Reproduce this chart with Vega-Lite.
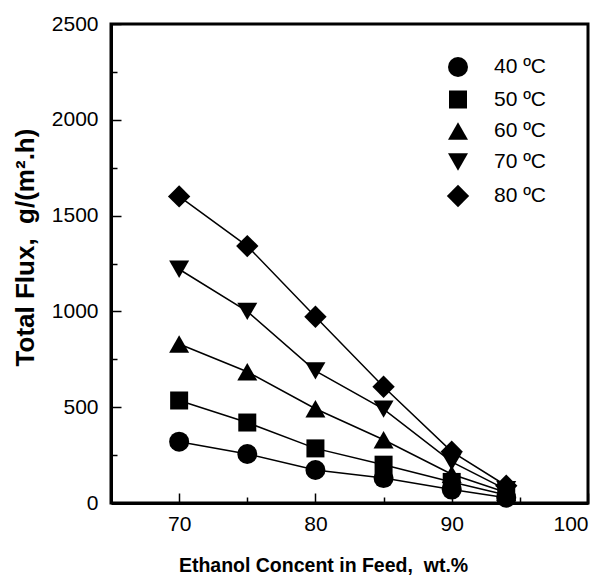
{
  "$schema": "https://vega.github.io/schema/vega-lite/v6.json",
  "width": 477,
  "height": 479,
  "autosize": {"type": "none"},
  "padding": {"left": 111, "top": 24, "right": 21, "bottom": 74},
  "background": "white",
  "config": {
    "view": {"stroke": "black", "strokeWidth": 3},
    "font": "Liberation Sans",
    "axis": {
      "domainColor": "black", "domainWidth": 3,
      "tickColor": "black", "tickWidth": 1.5,
      "labelFont": "Liberation Sans", "labelFontSize": 21, "labelColor": "black",
      "titleFont": "Liberation Sans", "titleFontWeight": "bold", "titleColor": "black",
      "grid": false
    }
  },
  "data": {
    "values": [
      {"x": 70, "y": 320, "T": "40 ºC"}, {"x": 75, "y": 256, "T": "40 ºC"}, {"x": 80, "y": 172, "T": "40 ºC"}, {"x": 85, "y": 130, "T": "40 ºC"}, {"x": 90, "y": 70, "T": "40 ºC"}, {"x": 94, "y": 28, "T": "40 ºC"},
      {"x": 70, "y": 535, "T": "50 ºC"}, {"x": 75, "y": 420, "T": "50 ºC"}, {"x": 80, "y": 285, "T": "50 ºC"}, {"x": 85, "y": 200, "T": "50 ºC"}, {"x": 90, "y": 110, "T": "50 ºC"}, {"x": 94, "y": 42, "T": "50 ºC"},
      {"x": 70, "y": 830, "T": "60 ºC"}, {"x": 75, "y": 685, "T": "60 ºC"}, {"x": 80, "y": 492, "T": "60 ºC"}, {"x": 85, "y": 330, "T": "60 ºC"}, {"x": 90, "y": 150, "T": "60 ºC"}, {"x": 94, "y": 55, "T": "60 ºC"},
      {"x": 70, "y": 1220, "T": "70 ºC"}, {"x": 75, "y": 1000, "T": "70 ºC"}, {"x": 80, "y": 690, "T": "70 ºC"}, {"x": 85, "y": 490, "T": "70 ºC"}, {"x": 90, "y": 215, "T": "70 ºC"}, {"x": 94, "y": 70, "T": "70 ºC"},
      {"x": 70, "y": 1600, "T": "80 ºC"}, {"x": 75, "y": 1341, "T": "80 ºC"}, {"x": 80, "y": 972, "T": "80 ºC"}, {"x": 85, "y": 607, "T": "80 ºC"}, {"x": 90, "y": 268, "T": "80 ºC"}, {"x": 94, "y": 90, "T": "80 ºC"}
    ]
  },
  "encoding": {
    "x": {
      "field": "x", "type": "quantitative",
      "scale": {"domain": [65, 100], "nice": false, "zero": false},
      "axis": {
        "values": [70, 75, 80, 85, 90, 95, 100],
        "labelExpr": "datum.value % 10 === 0 ? datum.label : ''",
        "tickSize": {"condition": {"test": "datum.value % 10 === 0", "value": -10}, "value": -6},
        "labelPadding": 20,
        "title": "Ethanol Concent in Feed,\u00a0\u00a0wt.%",
        "titleFontSize": 19.5,
        "titleBaseline": "alphabetic",
        "titleX": 212,
        "titleY": 68
      }
    },
    "y": {
      "field": "y", "type": "quantitative",
      "scale": {"domain": [0, 2500], "nice": false},
      "axis": {
        "values": [0, 250, 500, 750, 1000, 1250, 1500, 1750, 2000, 2250, 2500],
        "labelExpr": "datum.value % 500 === 0 ? datum.label : ''",
        "format": "d",
        "tickSize": {"condition": {"test": "datum.value % 500 === 0", "value": -10}, "value": -6},
        "labelPadding": 23,
        "title": "Total Flux,\u00a0\u00a0g/(m².h)",
        "titleFontSize": 26,
        "titleBaseline": "alphabetic",
        "titleX": -78,
        "titleY": 223
      }
    }
  },
  "layer": [
    {
      "mark": {"type": "line", "color": "black", "strokeWidth": 1.5},
      "encoding": {"detail": {"field": "T"}}
    },
    {
      "mark": {"type": "point", "filled": true, "color": "black", "opacity": 1},
      "encoding": {
        "shape": {
          "field": "T", "type": "nominal",
          "scale": {"domain": ["40 ºC", "50 ºC", "60 ºC", "70 ºC", "80 ºC"], "range": ["circle", "square", "triangle-up", "triangle-down", "diamond"]},
          "legend": {
            "title": null, "orient": "none", "legendX": 335, "legendY": 32,
            "labelFontSize": 21, "labelFont": "Liberation Sans", "labelColor": "black",
            "symbolFillColor": "black", "symbolStrokeColor": "black",
            "rowPadding": 7, "labelOffset": 24
          }
        },
        "size": {
          "field": "T", "type": "nominal",
          "scale": {"type": "ordinal", "domain": ["40 ºC", "50 ºC", "60 ºC", "70 ºC", "80 ºC"], "range": [400, 324, 400, 400, 500]}
        }
      }
    }
  ]
}
